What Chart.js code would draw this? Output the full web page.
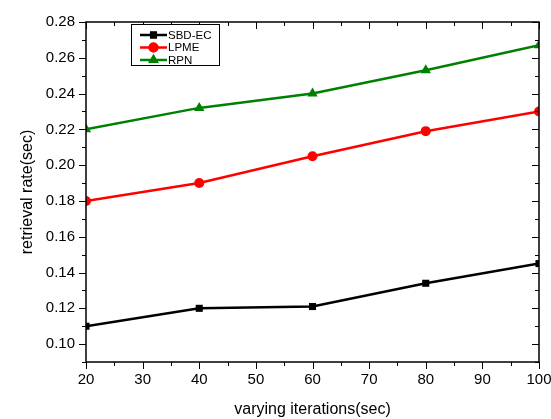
<!DOCTYPE html>
<html lang="en">
<head>
    <meta charset="UTF-8">
    <title>Retrieval rate</title>
    <script src="https://cdn.jsdelivr.net/npm/chart.js"></script>
    <style>
        html, body { margin: 0; padding: 0; background: #fff; }
        #wrap { position: relative; width: 551px; height: 419px; }
    </style>
</head>
<body>
    <div id="wrap"><canvas id="rateChart"></canvas></div>

    <script>
        // data
        const iterations = [20, 40, 60, 80, 100];
        const sbdEc = [0.110, 0.120, 0.121, 0.134, 0.145];
        const lpme  = [0.180, 0.190, 0.205, 0.219, 0.230];
        const rpn   = [0.220, 0.232, 0.240, 0.253, 0.267];
        const seriesNames = ['SBD-EC', 'LPME', 'RPN'];
        const xTicks = [20, 30, 40, 50, 60, 70, 80, 90, 100];
        const yTicks = [0.10, 0.12, 0.14, 0.16, 0.18, 0.20, 0.22, 0.24, 0.26, 0.28];

        const font = "'Liberation Sans', Arial, sans-serif";

        function pts(vals) {
            return iterations.map((x, i) => ({ x: x, y: vals[i] }));
        }

        function series(label, vals, color, style, radius) {
            return {
                label: label,
                data: pts(vals),
                showLine: true,
                borderColor: color,
                backgroundColor: color,
                borderWidth: 2.5,
                pointStyle: style,
                pointRadius: radius,
                pointBorderWidth: 0,
                pointBackgroundColor: color
            };
        }

        // box with inward ticks on top/right, outward on left/bottom, plus the framed legend
        const frame = {
            id: 'frame',
            afterDraw(chart) {
                const ctx = chart.ctx;
                const a = chart.chartArea;
                const xs = chart.scales.x, ys = chart.scales.y;
                ctx.save();
                ctx.strokeStyle = '#000';
                ctx.lineWidth = 1.5;
                ctx.strokeRect(a.left, a.top, a.right - a.left, a.bottom - a.top);
                ctx.lineWidth = 1;
                ctx.beginPath();
                for (let v = 20; v <= 100; v += 5) {
                    const p = Math.round(xs.getPixelForValue(v)) + 0.5;
                    const len = v % 10 === 0 ? 7 : 4;
                    ctx.moveTo(p, a.bottom); ctx.lineTo(p, a.bottom + len);
                    ctx.moveTo(p, a.top); ctx.lineTo(p, a.top + len);
                }
                for (let k = 9; k <= 28; k++) {
                    const p = Math.round(ys.getPixelForValue(k / 100)) + 0.5;
                    const len = k % 2 === 0 ? 7 : 4;
                    ctx.moveTo(a.left, p); ctx.lineTo(a.left - len, p);
                    ctx.moveTo(a.right, p); ctx.lineTo(a.right - len, p);
                }
                ctx.stroke();

                // legend
                const bx = 131, by = 24, bw = 88, bh = 41;
                ctx.fillStyle = '#fff';
                ctx.fillRect(bx, by, bw, bh);
                ctx.strokeStyle = '#000';
                ctx.lineWidth = 1;
                ctx.strokeRect(bx + 0.5, by + 0.5, bw, bh);
                ctx.font = '11.5px ' + font;
                ctx.textBaseline = 'middle';
                chart.data.datasets.forEach((ds, i) => {
                    const y = by + 11 + i * 12.5;
                    ctx.strokeStyle = ds.borderColor;
                    ctx.fillStyle = ds.borderColor;
                    ctx.lineWidth = 2.5;
                    ctx.beginPath();
                    ctx.moveTo(bx + 9, y); ctx.lineTo(bx + 36, y);
                    ctx.stroke();
                    Chart.helpers.drawPoint(ctx, { pointStyle: ds.pointStyle, radius: ds.pointRadius, rotation: 0, borderWidth: 0 }, bx + 22.5, y);
                    ctx.fill();
                    ctx.fillStyle = '#000';
                    ctx.fillText(ds.label, bx + 37, y + 0.5);
                });
                ctx.restore();
            }
        };

        const ctx = document.getElementById('rateChart').getContext('2d');
        new Chart(ctx, {
            type: 'scatter',
            data: {
                datasets: [
                    series(seriesNames[0], sbdEc, '#000000', 'rect', 5),
                    series(seriesNames[1], lpme, '#ff0000', 'circle', 5),
                    series(seriesNames[2], rpn, '#008000', 'triangle', 6)
                ]
            },
            options: {
                responsive: true,
                maintainAspectRatio: false,
                animation: false,
                layout: { padding: { top: 22, right: 12, left: 0, bottom: 0 } },
                plugins: {
                    legend: { display: false },
                    tooltip: { enabled: false }
                },
                scales: {
                    x: {
                        type: 'linear',
                        min: 20,
                        max: 100,
                        afterBuildTicks: s => { s.ticks = xTicks.map(v => ({ value: v })); },
                        afterFit: s => { s.height = 57; s.paddingLeft = 0; s.paddingRight = 0; },
                        grid: { display: false, drawTicks: false },
                        border: { display: false },
                        ticks: {
                            color: '#000',
                            padding: 9,
                            maxRotation: 0,
                            font: { family: font, size: 15 }
                        },
                        title: {
                            display: true,
                            text: 'varying iterations(sec)',
                            color: '#000',
                            font: { family: font, size: 16 },
                            padding: { top: 2, bottom: 0 }
                        }
                    },
                    y: {
                        type: 'linear',
                        min: 0.09,
                        max: 0.28,
                        afterBuildTicks: s => { s.ticks = yTicks.map(v => ({ value: v })); },
                        afterFit: s => { s.width = 86; s.paddingTop = 0; s.paddingBottom = 0; },
                        grid: { display: false, drawTicks: false },
                        border: { display: false },
                        ticks: {
                            color: '#000',
                            padding: 11,
                            font: { family: font, size: 15 },
                            callback: v => v.toFixed(2)
                        },
                        title: {
                            display: true,
                            text: 'retrieval rate(sec)',
                            color: '#000',
                            font: { family: font, size: 16 },
                            padding: { top: 18, bottom: 0 }
                        }
                    }
                }
            },
            plugins: [frame]
        });
    </script>
</body>
</html>
